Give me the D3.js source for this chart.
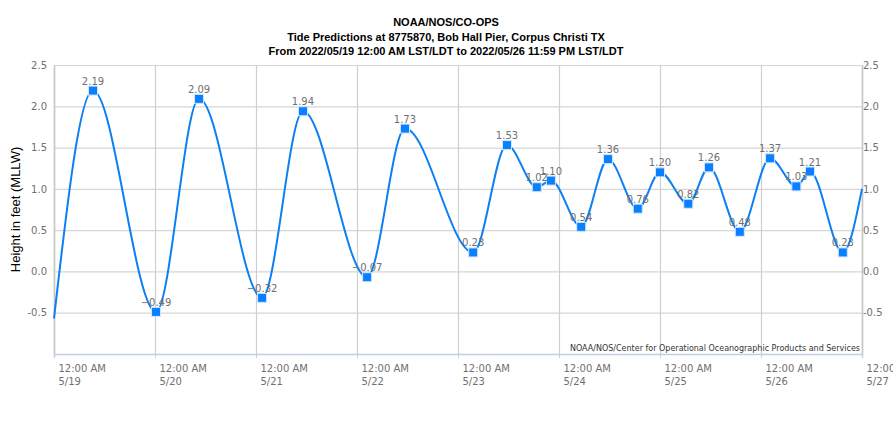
<!DOCTYPE html>
<html>
<head>
<meta charset="utf-8">
<script src="https://cdn.jsdelivr.net/npm/d3@7/dist/d3.min.js"></script>
<style>
body { margin: 0; background: #fff; }
svg { display: block; }
</style>
</head>
<body>
<script>
// tide hi/lo predictions (day offset from 5/19 00:00, height ft MLLW)
var hiloTimes = [0.386, 1.01, 1.436, 2.06, 2.465, 3.10, 3.475, 4.15, 4.485, 4.78, 4.92,
                 5.22, 5.485, 5.78, 6.0, 6.28, 6.485, 6.79, 7.09, 7.35, 7.485, 7.81];
var hiloValues = [2.19, -0.49, 2.09, -0.32, 1.94, -0.07, 1.73, 0.23, 1.53, 1.02, 1.10,
                  0.54, 1.36, 0.76, 1.20, 0.82, 1.26, 0.48, 1.37, 1.03, 1.21, 0.23];
// curve ends at the start / end of the window
var startValue = -0.57;
var endValue = 1.0;
var dayLabels = ["5/19", "5/20", "5/21", "5/22", "5/23", "5/24", "5/25", "5/26", "5/27"];
var yTicks = [-0.5, 0.0, 0.5, 1.0, 1.5, 2.0, 2.5];
var titleLines = ["NOAA/NOS/CO-OPS",
  "Tide Predictions at 8775870, Bob Hall Pier, Corpus Christi TX",
  "From 2022/05/19 12:00 AM LST/LDT to 2022/05/26 11:59 PM LST/LDT"];

var W = 893, H = 422;
var margin = {top: 65, right: 31, bottom: 68, left: 54},
    width = W - margin.left - margin.right,
    height = H - margin.top - margin.bottom;

var svg = d3.select("body").append("svg")
    .attr("width", W)
    .attr("height", H);

svg.selectAll(".title")
    .data(titleLines)
  .enter().append("text")
    .attr("class", "title")
    .attr("x", 446)
    .attr("y", function(d, i) { return 26 + i * 14.5; })
    .style("text-anchor", "middle")
    .style("font-family", "Liberation Sans, Arial, sans-serif")
    .style("font-weight", "bold")
    .style("font-size", "11px")
    .text(function(d) { return d; });

var g = svg.append("g")
    .attr("transform", "translate(" + margin.left + "," + margin.top + ")");

var x = d3.scaleLinear().domain([0, 8]).range([0, width]);
var y = d3.scaleLinear().domain([-1, 2.5]).range([height, 0]);

var tickFont = "DejaVu Sans, Verdana, sans-serif";
var fmt1 = function(d) { return d3.format(".1f")(d).replace("−", "-"); };

// horizontal grid
g.append("g")
    .call(d3.axisLeft(y).tickValues(yTicks).tickSize(-width).tickFormat(""))
    .call(function(s) {
      s.select(".domain").remove();
      s.selectAll("line").attr("stroke", "#d6d6d6").attr("stroke-width", 1.2);
    });

// vertical grid
g.append("g")
    .call(d3.axisBottom(x).ticks(8).tickSize(height).tickFormat(""))
    .call(function(s) {
      s.select(".domain").remove();
      s.selectAll("line").attr("stroke", "#cfcfcf").attr("stroke-width", 1.2);
    });

// left axis
g.append("g")
    .call(d3.axisLeft(y).tickValues(yTicks).tickSize(0).tickPadding(7).tickFormat(fmt1))
    .call(function(s) {
      s.select(".domain").attr("stroke", "#c4c4c4").attr("stroke-width", 1.5);
      s.selectAll("text").attr("fill", "#707070").style("font-family", tickFont).style("font-size", "10px");
    });

// right axis
g.append("g")
    .attr("transform", "translate(" + width + ",0)")
    .call(d3.axisRight(y).tickValues(yTicks).tickSize(0).tickPadding(1).tickFormat(fmt1))
    .call(function(s) {
      s.select(".domain").attr("stroke", "#c4c4c4").attr("stroke-width", 1.5);
      s.selectAll("text").attr("fill", "#707070").style("font-family", tickFont).style("font-size", "10px");
    });

// bottom axis
var xAxisG = g.append("g")
    .attr("transform", "translate(0," + height + ")")
    .call(d3.axisBottom(x).ticks(8).tickSize(4).tickFormat(""));
xAxisG.select(".domain").attr("stroke", "#c0d0e0").attr("stroke-width", 1.5);
xAxisG.selectAll(".tick line").attr("stroke", "#c0d0e0");
xAxisG.selectAll(".tick").each(function(d, i) {
  var t = d3.select(this).append("text")
      .attr("fill", "#707070")
      .style("font-family", tickFont)
      .style("font-size", "10px")
      .style("text-anchor", "start");
  t.append("tspan").attr("x", 4).attr("y", 18).text("12:00 AM");
  t.append("tspan").attr("x", 4).attr("y", 31).text(dayLabels[i]);
});

// y axis title
svg.append("text")
    .attr("transform", "translate(20," + (margin.top + y(0.75)) + ") rotate(-90)")
    .style("text-anchor", "middle")
    .style("font-family", "Liberation Sans, Arial, sans-serif")
    .style("font-size", "13px")
    .text("Height in feet (MLLW)");

// credit
svg.append("text")
    .attr("x", margin.left + width - 2)
    .attr("y", margin.top + height - 3)
    .style("text-anchor", "end")
    .style("font-family", tickFont)
    .style("font-size", "8px")
    .attr("fill", "#333")
    .text("NOAA/NOS/Center for Operational Oceanographic Products and Services");

// tide curve
var curveTimes = [0].concat(hiloTimes, [8]);
var curveValues = [startValue].concat(hiloValues, [endValue]);
var line = d3.line()
    .x(function(d, i) { return x(curveTimes[i]); })
    .y(function(d) { return y(d); })
    .curve(d3.curveMonotoneX);

g.append("path")
    .datum(curveValues)
    .attr("d", line)
    .attr("fill", "none")
    .attr("stroke", "#0d7ff2")
    .attr("stroke-width", 2);

// hi/lo markers
g.selectAll(".marker")
    .data(hiloValues)
  .enter().append("rect")
    .attr("class", "marker")
    .attr("x", function(d, i) { return x(hiloTimes[i]) - 4.5; })
    .attr("y", function(d) { return y(d) - 4.5; })
    .attr("width", 9)
    .attr("height", 9)
    .attr("fill", "#0a80ff")
    .attr("stroke", "#cfe6ff")
    .attr("stroke-width", 1);

g.selectAll(".vlabel")
    .data(hiloValues)
  .enter().append("text")
    .attr("class", "vlabel")
    .attr("x", function(d, i) { return x(hiloTimes[i]); })
    .attr("y", function(d) { return y(d) - 6; })
    .style("text-anchor", "middle")
    .style("font-family", tickFont)
    .style("font-size", "10px")
    .attr("fill", "#707070")
    .text(function(d) { return d3.format(".2f")(d); });
</script>
</body>
</html>
